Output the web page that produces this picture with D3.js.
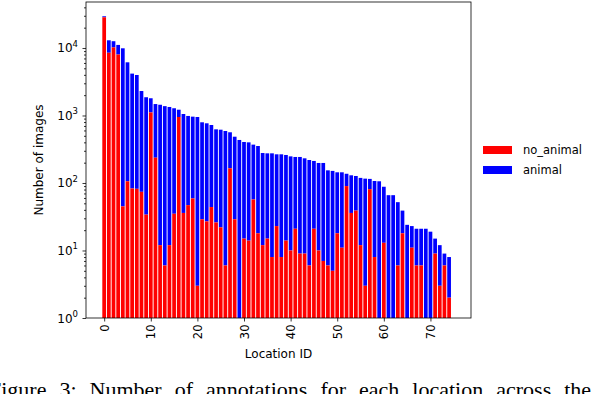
<!DOCTYPE html>
<html>
<head>
<meta charset="utf-8">
<script src="https://cdn.jsdelivr.net/npm/d3@7"></script>
<style>
  body { margin: 0; background: #fff; }
  svg { display: block; font-family: "DejaVu Sans", sans-serif; }
</style>
</head>
<body>
<div id="chart"></div>
<script>
// location ids 0..74
const locations = d3.range(75);

// images without animals per location (red, bottom of the stack)
const noAnimal = [28500, 8500, 10200, 8000, 45, 106, 83, 82, 74, 34,
    1110, 237, 12, 6, 12, 35, 950, 36, 47, 59,
    3, 29, 27, 44, 26, 22, 6, 165, 29, 0,
    15, 14, 57, 18, 12, 15, 8, 23, 8, 14,
    10, 21, 9, 9, 6, 21, 10, 7, 6, 5,
    18, 11, 90, 36, 39, 12, 3, 81, 8, 0,
    13, 0, 0, 6, 18, 0, 11, 6, 6, 0,
    0, 9, 3, 6, 2];

// images with animals per location (blue, stacked on top)
const animal = [1000, 4500, 2400, 3100, 9850, 6030, 4090, 3900, 2230, 1830,
    690, 1240, 1430, 1370, 1325, 1245, 268, 1016, 937, 902,
    947, 764, 739, 679, 598, 594, 583, 399, 456, 434,
    390, 386, 313, 335, 266, 260, 267, 243, 258, 246,
    238, 222, 234, 223, 213, 191, 188, 191, 148, 146,
    126, 133, 47, 94, 88, 107, 113, 34, 99, 106,
    75, 66, 66, 46, 21, 24, 12, 15, 15, 21,
    19, 6, 9, 3, 6];

const xTicks = [0, 10, 20, 30, 40, 50, 60, 70];
const yTicks = [1, 10, 100, 1000, 10000];
const seriesNames = ['no_animal', 'animal'];
const seriesColors = ['#ff0000', '#0000ff'];

const width = 606, height = 394;
const plot = {left: 86, right: 471, top: 2, bottom: 318};

const svg = d3.select('#chart').append('svg')
    .attr('width', width)
    .attr('height', height);

const x = d3.scaleLinear()
    .domain([-3.9, 78.7])
    .range([plot.left, plot.right]);

const y = d3.scaleLog()
    .domain([1, 48000])
    .range([plot.bottom, plot.top])
    .clamp(true);

const barW = (x(0.8) - x(0));

// bars
const bars = svg.append('g').attr('id', 'bars');

// animal part sits on top of no_animal
bars.selectAll('rect.animal')
    .data(locations)
    .join('rect')
    .attr('class', 'animal')
    .attr('x', i => x(i) - barW / 2)
    .attr('width', barW)
    .attr('y', i => y(noAnimal[i] + animal[i]))
    .attr('height', i => y(Math.max(noAnimal[i], 1)) - y(noAnimal[i] + animal[i]))
    .attr('fill', seriesColors[1]);

bars.selectAll('rect.noanimal')
    .data(locations.filter(i => noAnimal[i] > 1))
    .join('rect')
    .attr('class', 'noanimal')
    .attr('x', i => x(i) - barW / 2)
    .attr('width', barW)
    .attr('y', i => y(noAnimal[i]))
    .attr('height', i => y(1) - y(noAnimal[i]))
    .attr('fill', seriesColors[0]);

// x axis
const xAxis = svg.append('g')
    .attr('transform', `translate(0,${plot.bottom})`)
    .call(d3.axisBottom(x).tickValues(xTicks).tickSize(3.5).tickPadding(3).tickFormat(d3.format('d')));
xAxis.select('.domain').remove();
xAxis.selectAll('text')
    .attr('transform', 'rotate(-90)')
    .attr('x', -6.5)
    .attr('y', 0)
    .attr('dy', '0.35em')
    .attr('text-anchor', 'end')
    .attr('font-size', 11.5)
    .attr('font-family', '"DejaVu Sans", sans-serif')
    .attr('fill', '#000');

// y axis with minor ticks
const minorTicks = [];
for (let p = 0; p < 5; p++) {
    for (let k = 2; k <= 9; k++) {
        const v = k * Math.pow(10, p);
        if (v <= y.domain()[1]) minorTicks.push(v);
    }
}
const yMinor = svg.append('g')
    .attr('transform', `translate(${plot.left},0)`)
    .call(d3.axisLeft(y).tickValues(minorTicks).tickSize(2).tickFormat(''));
yMinor.select('.domain').remove();

const yAxis = svg.append('g')
    .attr('transform', `translate(${plot.left},0)`)
    .call(d3.axisLeft(y).tickValues(yTicks).tickSize(3.5).tickFormat(''));
yAxis.select('.domain').remove();

svg.selectAll('.tick line').attr('stroke', '#000').attr('stroke-width', 0.8);

const yLabels = svg.append('g');
yTicks.forEach(v => {
    const t = yLabels.append('text')
        .attr('x', plot.left - 8)
        .attr('y', y(v) + 4.5)
        .attr('text-anchor', 'end')
        .attr('font-size', 12)
        .attr('fill', '#000');
    t.append('tspan').text('10');
    t.append('tspan')
        .attr('dy', -5.5)
        .attr('font-size', 8.5)
        .text(Math.round(Math.log10(v)));
});

// frame
svg.append('rect')
    .attr('x', plot.left)
    .attr('y', plot.top)
    .attr('width', plot.right - plot.left)
    .attr('height', plot.bottom - plot.top)
    .attr('fill', 'none')
    .attr('stroke', '#000')
    .attr('stroke-width', 0.8);

// axis titles
svg.append('text')
    .attr('x', (plot.left + plot.right) / 2)
    .attr('y', 358)
    .attr('text-anchor', 'middle')
    .attr('font-size', 12)
    .text('Location ID');

svg.append('text')
    .attr('transform', `translate(43,${(plot.top + plot.bottom) / 2}) rotate(-90)`)
    .attr('text-anchor', 'middle')
    .attr('font-size', 12)
    .text('Number of images');

// legend
const legend = svg.append('g').attr('transform', 'translate(483,146)');
seriesNames.forEach((name, i) => {
    legend.append('rect')
        .attr('x', 0)
        .attr('y', i * 20)
        .attr('width', 29)
        .attr('height', 8)
        .attr('fill', seriesColors[i]);
    legend.append('text')
        .attr('x', 40)
        .attr('y', i * 20 + 8)
        .attr('font-size', 11.5)
        .text(name);
});

// caption of the paper, cut off at the bottom (justified, wide word gaps)
svg.append('text')
    .attr('x', -11)
    .attr('y', 397)
    .attr('font-family', '"Liberation Serif", "DejaVu Serif", serif')
    .attr('font-size', 22)
    .attr('word-spacing', 7.5)
    .text('Figure 3: Number of annotations for each location across the');
</script>
</body>
</html>
